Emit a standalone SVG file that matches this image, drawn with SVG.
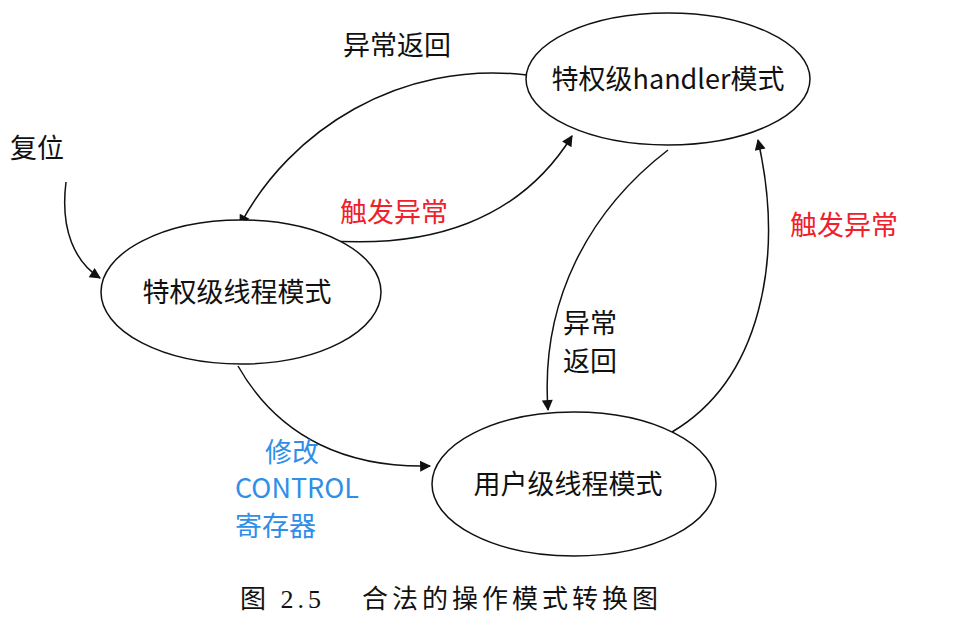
<svg xmlns="http://www.w3.org/2000/svg" width="960" height="622" viewBox="0 0 960 622">
<style>
text{font-family:"Noto Sans CJK SC","Noto Sans",sans-serif;font-size:27px;fill:#111}
.r{fill:#f0202a}.b{fill:#2f8fe8}
.n ellipse{fill:#fff;stroke:#111;stroke-width:1.5}
.c path{fill:none;stroke:#111;stroke-width:1.5;marker-end:url(#a)}
.cap{font-family:"Liberation Serif","Noto Sans CJK SC",serif;font-size:26px;letter-spacing:4px}
</style>
<defs><marker id="a" viewBox="0 0 10 10" refX="9" refY="5" markerWidth="13" markerHeight="11" orient="auto" markerUnits="userSpaceOnUse"><path d="M0,0 L10,5 L0,10 z" fill="#111"/></marker></defs>
<rect width="960" height="622" fill="#fff"/>
<g class="c">
<path d="M66,182 C60,230 75,262 100,278"/>
<path d="M527,75 C400,60 290,130 240,225"/>
<path d="M320,240 C430,250 520,220 572,136"/>
<path d="M668,150 C590,210 540,300 548,410"/>
<path d="M238,366 C280,440 350,468 430,466"/>
<path d="M672,432 C760,380 785,260 758,140"/>
</g>
<g id="n1" class="n"><ellipse cx="668" cy="79" rx="142" ry="66"/><text x="668" y="89" text-anchor="middle">特权级handler模式</text></g>
<g id="n2" class="n"><ellipse cx="241" cy="292" rx="140" ry="72"/><text x="237" y="302" text-anchor="middle">特权级线程模式</text></g>
<g id="n3" class="n"><ellipse cx="574" cy="484" rx="142" ry="72"/><text x="568" y="494" text-anchor="middle">用户级线程模式</text></g>
<text x="343" y="55">异常返回</text>
<text x="10" y="158">复位</text>
<text class="r" x="340" y="222">触发异常</text>
<text class="r" x="790" y="235">触发异常</text>
<text x="563" y="333">异常</text>
<text x="563" y="371">返回</text>
<text class="b" x="265" y="462">修改</text>
<text class="b" x="235" y="498">CONTROL</text>
<text class="b" x="235" y="536">寄存器</text>
<text class="cap" x="240" y="608">图 2.5</text>
<text class="cap" x="362" y="608">合法的操作模式转换图</text>
</svg>
